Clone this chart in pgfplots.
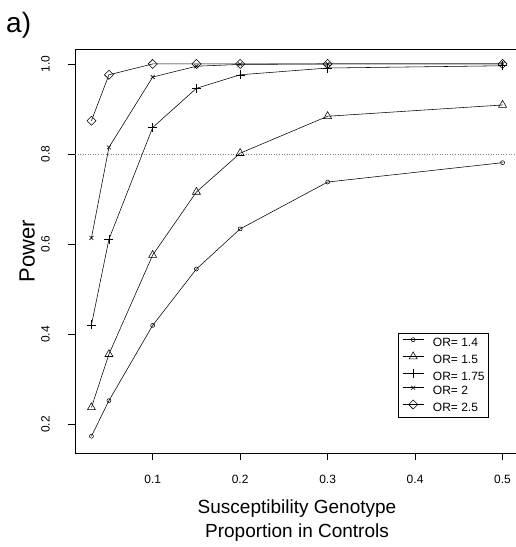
\documentclass[border=0pt]{standalone}
\usepackage{pgfplots}
\pgfplotsset{compat=1.18}
\usepackage{fontspec}
\setmainfont{Liberation Sans}
\begin{document}
\begin{tikzpicture}[x=1pt,y=1pt]
\useasboundingbox (0,0) rectangle (516,547);
\node[anchor=base west, inner sep=0pt, font=\fontsize{28}{32}\selectfont] at (6,514) {a)};
\begin{axis}[
  at={(75pt,94pt)}, anchor=south west,
  scale only axis, width=444pt, height=404pt,
  xmin=0.0112, xmax=0.5188, ymin=0.1368, ymax=1.0332,
  xtick={0.1,0.2,0.3,0.4,0.5},
  ytick={0.2,0.4,0.6,0.8,1.0},
  /pgf/number format/fixed,
  /pgf/number format/fixed zerofill,
  /pgf/number format/precision=1,
  /pgf/number format/assume math mode=true,
  tick label style={font=\fontsize{12}{14}\selectfont},
  yticklabel style={rotate=90, anchor=south, inner xsep=0pt, inner ysep=18pt},
  xticklabel style={anchor=north, inner sep=0pt, yshift=-14.5pt},
  tick align=outside, major tick length=7pt,
  xtick pos=bottom, ytick pos=left,
  tick style={black, line width=0.6pt},
  axis line style={black, line width=0.6pt},
  xlabel={Susceptibility Genotype\\Proportion in Controls},
  xlabel style={align=center, font=\fontsize{19}{24}\selectfont, at={(axis description cs:0.5,-0.1163)}, anchor=north, inner sep=0pt},
  ylabel={Power},
  ylabel style={font=\fontsize{22}{26}\selectfont, at={(axis description cs:-0.108,0.5)}, anchor=center, inner sep=0pt},
  legend style={at={(axis description cs:0.7275,0.297)}, anchor=north west, draw=black, line width=0.8pt,
    font=\fontsize{12}{14}\selectfont, inner xsep=4pt, inner ysep=4pt, row sep=3pt,
    nodes={inner sep=0pt, text height=9pt, text depth=2.5pt},
    /tikz/every odd column/.append style={column sep=9pt},
    /tikz/every even column/.append style={column sep=6pt}},
  legend cell align=left,
  legend image code/.code={\draw[mark repeat=2,mark phase=2,#1] plot coordinates {(0pt,3.5pt) (10.5pt,3.5pt) (21pt,3.5pt)};},
  every axis plot/.append style={black, line width=0.55pt, mark options={solid, fill=white, line width=0.55pt}},
]
\addplot[gray, dotted, line width=0.6pt, forget plot] coordinates {(0.0112,0.8) (0.5188,0.8)};
\addplot[mark=o, mark size=2pt] coordinates {(0.03,0.174) (0.05,0.253) (0.1,0.42) (0.15,0.545) (0.2,0.634) (0.3,0.738) (0.5,0.781)};
\addlegendentry{OR= 1.4}
\addplot[mark=triangle, mark size=4.6pt] coordinates {(0.03,0.238) (0.05,0.356) (0.1,0.576) (0.15,0.716) (0.2,0.802) (0.3,0.884) (0.5,0.909)};
\addlegendentry{OR= 1.5}
\addplot[mark=+, mark size=4.5pt] coordinates {(0.03,0.421) (0.05,0.611) (0.1,0.859) (0.15,0.946) (0.2,0.976) (0.3,0.991) (0.5,0.996)};
\addlegendentry{OR= 1.75}
\addplot[mark=x, mark size=2.8pt] coordinates {(0.03,0.614) (0.05,0.815) (0.1,0.971) (0.15,0.995) (0.2,0.999) (0.3,1.0) (0.5,1.0)};
\addlegendentry{OR= 2}
\addplot[mark=square, mark size=3.2pt, mark options={rotate=45}] coordinates {(0.03,0.874) (0.05,0.976) (0.1,1.0) (0.15,1.0) (0.2,1.0) (0.3,1.0) (0.5,1.0)};
\addlegendentry{OR= 2.5}
\end{axis}
\end{tikzpicture}
\end{document}
